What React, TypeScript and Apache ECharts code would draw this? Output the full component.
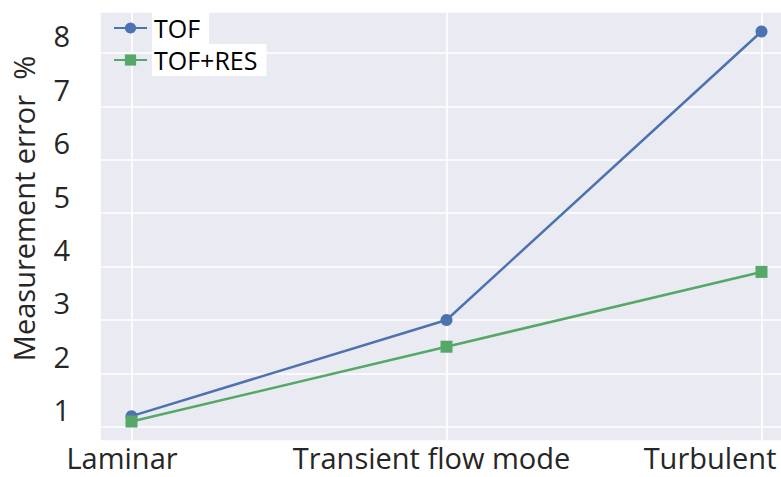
import React, { useEffect, useRef } from 'react';
import * as echarts from 'echarts';

const categories = ['Laminar', 'Transient flow mode', 'Turbulent'];
const seriesNames = ['TOF', 'TOF+RES'];
const tofValues = [1.2, 3.0, 8.4];
const tofResValues = [1.1, 2.5, 3.9];
const yTicks = [1, 2, 3, 4, 5, 6, 7, 8];
const yAxisTitle = 'Measurement error  %';

export default function App() {
  const ref = useRef<HTMLDivElement>(null);
  useEffect(() => {
    const chart = echarts.init(ref.current!, null, { renderer: 'svg' });
    const font = 'Open Sans';
    const textColor = '#262626';
    const all = [...tofValues, ...tofResValues];
    const lo = Math.min(...all);
    const hi = Math.max(...all);
    const pad = (hi - lo) * 0.05;
    const xPad = (categories.length - 1) * 0.05;
    const labelPad = [
      [0, 19, 0, 0],
      [0, 30, 0, 0],
      [0, -15, 0, 0],
    ];
    const rich: Record<string, any> = {};
    categories.forEach((_, i) => {
      rich['c' + i] = {
        fontFamily: font,
        fontSize: 29,
        lineHeight: 29,
        color: textColor,
        padding: labelPad[i],
      };
    });
    chart.setOption({
      animation: false,
      textStyle: { fontFamily: font },
      grid: {
        left: 100,
        top: 12,
        width: 693,
        height: 429,
        show: true,
        backgroundColor: '#eaeaf2',
        borderWidth: 0,
        containLabel: false,
        outerBoundsMode: 'none',
      },
      legend: {
        left: 113,
        top: 12,
        padding: 0,
        orient: 'vertical',
        itemWidth: 33,
        itemHeight: 14,
        itemGap: 0,
        data: seriesNames,
        textStyle: {
          fontFamily: font,
          fontSize: 25,
          color: '#000',
          backgroundColor: '#ffffff',
          padding: [3, 9, 3, 2],
          lineHeight: 26,
        },
      },
      xAxis: {
        type: 'value',
        min: -xPad,
        max: categories.length - 1 + xPad,
        minInterval: 1,
        maxInterval: 1,
        axisLine: { show: false },
        axisTick: { show: false },
        splitLine: { show: true, lineStyle: { color: '#ffffff', width: 1.6 } },
        axisLabel: {
          margin: 2,
          fontFamily: font,
          fontSize: 29,
          lineHeight: 29,
          color: textColor,
          hideOverlap: false,
          customValues: categories.map((_, i) => i),
          alignMaxLabel: 'right',
          rich,
          formatter: (v: number) => {
            const i = Math.round(v);
            return categories[i] !== undefined ? `{c${i}|${categories[i]}}` : '';
          },
        },
      },
      yAxis: {
        type: 'value',
        min: lo - pad,
        max: hi + pad,
        minInterval: 1,
        maxInterval: 1,
        name: yAxisTitle,
        nameLocation: 'middle',
        nameGap: 62,
        nameTextStyle: {
          fontFamily: font,
          fontSize: 29,
          color: textColor,
          lineHeight: 30,
          padding: [0, 0, 0, 36],
        },
        axisLine: { show: false },
        axisTick: { show: false },
        splitLine: { show: true, lineStyle: { color: '#ffffff', width: 1.6 } },
        axisLabel: {
          margin: 30,
          fontFamily: font,
          fontSize: 29,
          lineHeight: 34,
          color: textColor,
          verticalAlign: 'bottom',
          customValues: yTicks,
          formatter: (v: number) => String(Math.round(v)),
        },
      },
      series: [
        {
          name: seriesNames[0],
          type: 'line',
          data: tofValues.map((v, i) => [i, v]),
          symbol: 'circle',
          symbolSize: 12,
          itemStyle: { color: '#4c72b0' },
          lineStyle: { color: '#4c72b0', width: 2.5 },
        },
        {
          name: seriesNames[1],
          type: 'line',
          data: tofResValues.map((v, i) => [i, v]),
          symbol: 'rect',
          symbolSize: 12,
          itemStyle: { color: '#55a868' },
          lineStyle: { color: '#55a868', width: 2.5 },
        },
      ],
    });
    return () => chart.dispose();
  }, []);
  return (
    <div
      ref={ref}
      style={{ position: 'absolute', left: 0, top: 0, width: 781, height: 477 }}
    />
  );
}
